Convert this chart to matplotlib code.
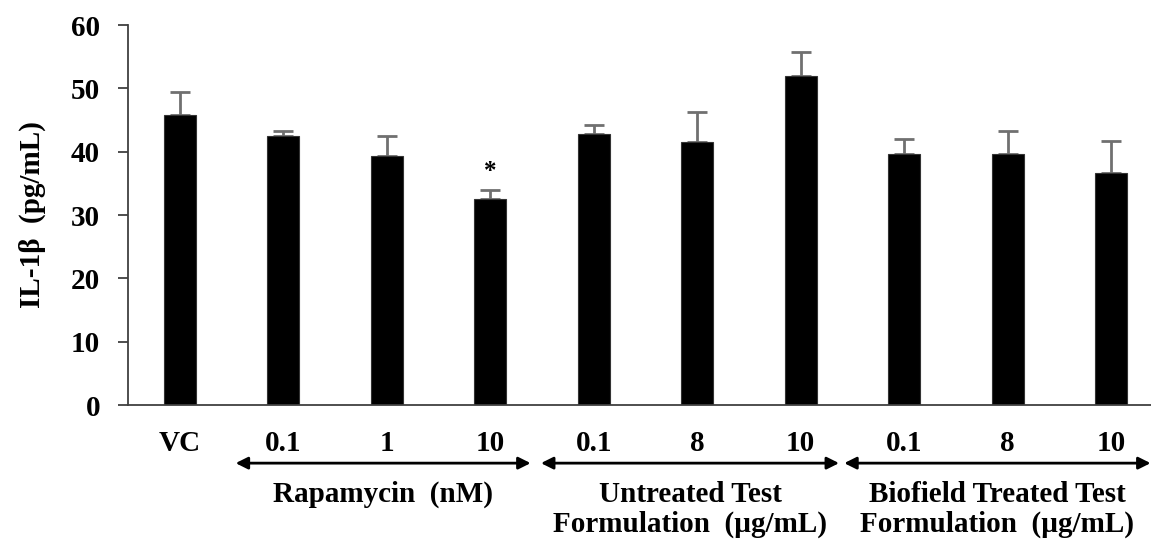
import numpy as np
import matplotlib
matplotlib.use('Agg')
from matplotlib import pyplot as plt

# values
tick_labels = ['VC', '0.1', '1', '10', '0.1', '8', '10', '0.1', '8', '10']
means = [45.8, 42.5, 39.3, 32.5, 42.8, 41.6, 52.0, 39.6, 39.6, 36.6]
errors = [3.7, 0.8, 3.1, 1.5, 1.4, 4.7, 3.7, 2.4, 3.7, 5.1]
groups = ['Rapamycin  (nM)', 'Untreated Test\nFormulation  (\u00b5g/mL)',
          'Biofield Treated Test\nFormulation  (\u00b5g/mL)']
group_spans = [(0.54, 3.39), (3.49, 6.37), (6.42, 9.38)]
star_index = 3

plt.rcParams['font.family'] = ['Liberation Serif', 'DejaVu Serif']
plt.rcParams['font.weight'] = 'bold'
fs = 21

W, H = 1151, 541
fig = plt.figure(figsize=(W/100.0, H/100.0), dpi=100)
ax = fig.add_axes([128.0/W, 1-405.0/H, 1035.0/W, 380.0/H])

x = np.arange(len(means))
ax.bar(x, means, width=0.31, color='black', edgecolor='#333333', linewidth=0.8, zorder=2)
ax.errorbar(x, means, yerr=[np.zeros(len(errors)), errors], fmt='none',
            ecolor='#707070', elinewidth=2, capsize=7, capthick=2, zorder=1)

ax.text(x[star_index], means[star_index]+errors[star_index]+1.0, '*',
        ha='center', va='bottom', fontsize=18, fontweight='bold')

ax.set_xlim(-0.5, 9.5)
ax.set_ylim(0, 60)
ax.set_yticks(np.arange(0, 61, 10))
ax.set_xticks(x)
ax.set_xticklabels(tick_labels)
ax.tick_params(axis='x', length=0, pad=18, labelsize=fs)
ax.tick_params(axis='y', direction='out', length=7, width=1.3, color='#404040',
               pad=13, labelsize=fs)
for lab in ax.get_xticklabels() + ax.get_yticklabels():
    lab.set_fontweight('bold')

for s in ['top', 'right']:
    ax.spines[s].set_visible(False)
for s in ['left', 'bottom']:
    ax.spines[s].set_color('#404040')
    ax.spines[s].set_linewidth(1.3)

ax.set_ylabel('IL-1\u03b2  (pg/mL)', fontsize=fs, fontweight='bold', labelpad=18)

trans = ax.get_xaxis_transform()
for (a, b), g in zip(group_spans, groups):
    ax.annotate('', xy=(a, -0.153), xytext=(b, -0.153), xycoords=trans,
                textcoords=trans, annotation_clip=False,
                arrowprops=dict(arrowstyle='<|-|>', color='black', lw=2,
                                mutation_scale=18, shrinkA=0, shrinkB=0))
    ax.text((a+b)/2.0, -0.2, g, transform=trans, ha='center', va='top',
            fontsize=fs, fontweight='bold', linespacing=1.15)

fig.savefig('out.png', dpi=100)
